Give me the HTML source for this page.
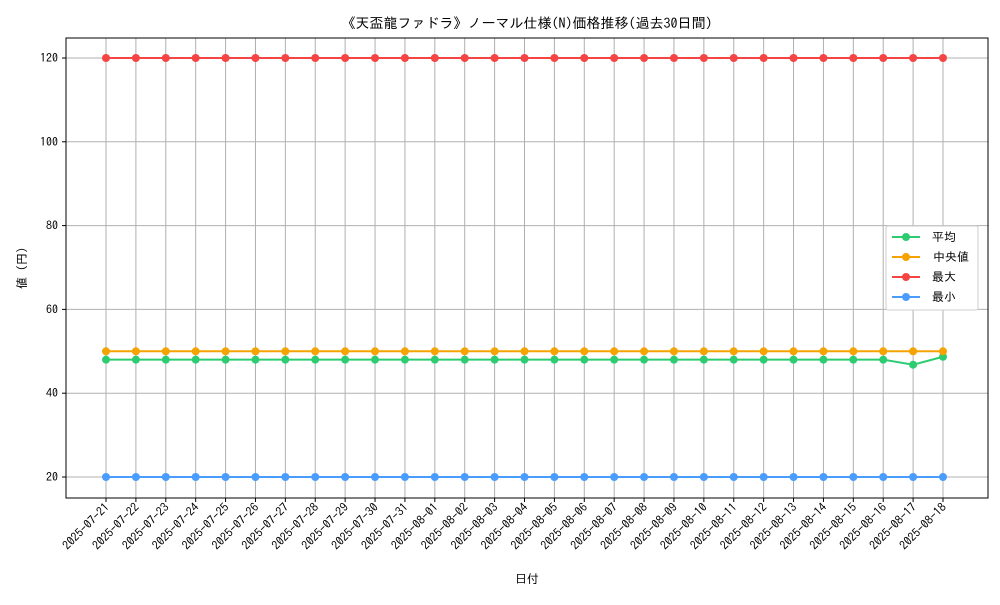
<!DOCTYPE html>
<html><head><meta charset="utf-8"><style>
body{margin:0;background:#fff}
svg text{font-family:"IPAGothic","Noto Sans CJK JP",sans-serif;fill:#000}
</style></head><body>
<svg id="chart" width="1000" height="600" xmlns="http://www.w3.org/2000/svg">
<text x="527" y="28" font-size="14" text-anchor="middle">《天盃龍ファドラ》ノーマル仕様(N)価格推移(過去30日間)</text>
<g id="grid"></g>
<g id="series"></g>
<rect x="66" y="38" width="922" height="460" fill="none" stroke="#000" stroke-width="1"/>
<g id="axes"></g>
<text x="527" y="583" font-size="12" text-anchor="middle">日付</text>
<text transform="translate(26,268) rotate(-90)" font-size="12" text-anchor="middle">値 (円)</text>
<g>
<rect x="886" y="226" width="92" height="84" fill="#fff" stroke="#ccc" rx="2"/>
<line x1="892" y1="237" x2="920" y2="237" stroke="#2ecc71" stroke-width="2"/><circle cx="906" cy="237" r="4" fill="#2ecc71"/><text x="932" y="241" font-size="12">平均</text>
<line x1="892" y1="257" x2="920" y2="257" stroke="#f5a300" stroke-width="2"/><circle cx="906" cy="257" r="4" fill="#f5a300"/><text x="933" y="261" font-size="12">中央値</text>
<line x1="892" y1="277" x2="920" y2="277" stroke="#f44444" stroke-width="2"/><circle cx="906" cy="277" r="4" fill="#f44444"/><text x="932" y="281" font-size="12">最大</text>
<line x1="892" y1="297" x2="920" y2="297" stroke="#4a9cff" stroke-width="2"/><circle cx="906" cy="297" r="4" fill="#4a9cff"/><text x="932" y="301" font-size="12">最小</text>
</g>
</svg>
<script>
const dates=["2025-07-21","2025-07-22","2025-07-23","2025-07-24","2025-07-25","2025-07-26","2025-07-27","2025-07-28","2025-07-29","2025-07-30","2025-07-31","2025-08-01","2025-08-02","2025-08-03","2025-08-04","2025-08-05","2025-08-06","2025-08-07","2025-08-08","2025-08-09","2025-08-10","2025-08-11","2025-08-12","2025-08-13","2025-08-14","2025-08-15","2025-08-16","2025-08-17","2025-08-18"];
const avgVals=[48,48,48,48,48,48,48,48,48,48,48,48,48,48,48,48,48,48,48,48,48,48,48,48,48,48,48,46.8,48.7];
const medianVals=[50,50,50,50,50,50,50,50,50,50,50,50,50,50,50,50,50,50,50,50,50,50,50,50,50,50,50,50,50];
const maxVals=[120,120,120,120,120,120,120,120,120,120,120,120,120,120,120,120,120,120,120,120,120,120,120,120,120,120,120,120,120];
const minVals=[20,20,20,20,20,20,20,20,20,20,20,20,20,20,20,20,20,20,20,20,20,20,20,20,20,20,20,20,20];
const yTicks=[20,40,60,80,100,120];
const NS="http://www.w3.org/2000/svg";
const x=i=>106+i*(943-106)/(dates.length-1);
const y=v=>477-(v-20)*(477-58)/100;
function mk(t,a,p){const e=document.createElementNS(NS,t);for(const k in a)e.setAttribute(k,a[k]);p.appendChild(e);return e;}
const grid=document.getElementById('grid'),axes=document.getElementById('axes'),ser=document.getElementById('series');
dates.forEach((d,i)=>{
 const gl=mk('line',{x1:x(i),x2:x(i),y1:38,y2:498,stroke:'#b0b0b0','stroke-width':1},grid);
 
 mk('line',{x1:x(i),x2:x(i),y1:498,y2:502,stroke:'#000'},axes);
 const t=mk('text',{x:x(i)+4,y:508,'font-size':12,'text-anchor':'end',transform:`rotate(-45 ${x(i)+4} 508)`},axes);
 
 t.textContent=d;
});
yTicks.forEach(v=>{
 const gl=mk('line',{x1:66,x2:988,y1:y(v),y2:y(v),stroke:'#b0b0b0','stroke-width':1},grid);
 
 mk('line',{x1:62,x2:66,y1:y(v),y2:y(v),stroke:'#000'},axes);
 const t=mk('text',{x:58,y:y(v)+4,'font-size':12,'text-anchor':'end'},axes);
 
 t.textContent=v;
});
[[avgVals,'#2ecc71','avg'],[medianVals,'#f5a300','median'],[maxVals,'#f44444','max'],[minVals,'#4a9cff','min']].forEach(([vals,c,n])=>{
 const pl=mk('polyline',{points:vals.map((v,i)=>x(i)+','+y(v)).join(' '),fill:'none',stroke:c,'stroke-width':2},ser);
 
 vals.forEach((v,i)=>{const p=mk('circle',{cx:x(i),cy:y(v),r:4,fill:c},ser);
  });
});
</script>
</body></html>
